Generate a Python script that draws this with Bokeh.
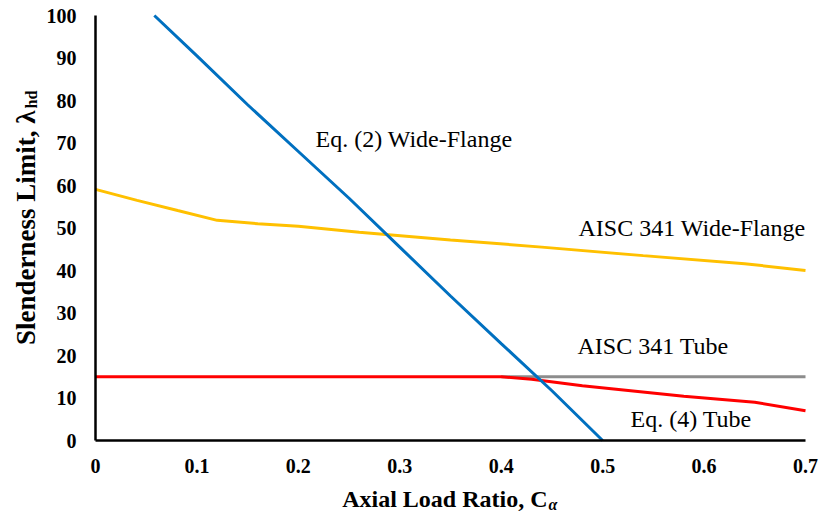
from bokeh.plotting import figure
from bokeh.models import Range1d, FixedTicker, Label
from bokeh.embed import file_html
from bokeh.resources import INLINE
import math

# ---- data ----
eq2_wf_x = [0.058, 0.10, 0.15, 0.20, 0.25, 0.30, 0.35, 0.40, 0.45, 0.50]
eq2_wf_y = [100.0, 90.5, 79.0, 68.0, 57.0, 45.5, 34.0, 22.8, 11.7, 0.0]

aisc_wf_x = [0.0, 0.041, 0.081, 0.12, 0.16, 0.20, 0.26, 0.35, 0.44, 0.54, 0.64, 0.70]
aisc_wf_y = [59.1, 56.5, 54.1, 51.8, 51.0, 50.4, 49.0, 47.2, 45.5, 43.5, 41.6, 40.0]

aisc_tube_x = [0.40, 0.70]
aisc_tube_y = [15.0, 15.0]

eq4_tube_x = [0.0, 0.40, 0.43, 0.48, 0.58, 0.65, 0.70]
eq4_tube_y = [15.0, 15.0, 14.4, 12.9, 10.4, 9.0, 7.0]

x_ticks = [0, 0.1, 0.2, 0.3, 0.4, 0.5, 0.6, 0.7]
x_tick_labels = ["0", "0.1", "0.2", "0.3", "0.4", "0.5", "0.6", "0.7"]
y_ticks = [0, 10, 20, 30, 40, 50, 60, 70, 80, 90, 100]

SERIF = "Liberation Serif"

# canvas geometry: x=0 -> 95px, x=0.7 -> 805px ; y=0 -> 440px, y=100 -> 15px
W, H = 819, 514
L_PX, R_PX, T_PX, B_PX = 95, 805, 15, 440
xs = (R_PX - L_PX) / 0.7
ys = (B_PX - T_PX) / 100.0
x_range = Range1d(-L_PX / xs, 0.7 + (W - R_PX) / xs)
y_range = Range1d(-(H - B_PX) / ys, 100 + T_PX / ys)

def cx(px):  # canvas px -> data x
    return (px - L_PX) / xs

def cy(py):  # canvas px -> data y
    return (B_PX - py) / ys

p = figure(width=W, height=H, output_backend="svg", toolbar_location=None,
           x_range=x_range, y_range=y_range,
           min_border=0, min_border_left=0, min_border_right=0,
           min_border_top=0, min_border_bottom=0)
p.outline_line_color = None
p.background_fill_color = "white"
p.border_fill_color = "white"
p.xgrid.visible = False
p.ygrid.visible = False

for ax in (p.xaxis[0], p.yaxis[0]):
    ax.fixed_location = 0
    ax.axis_line_color = "black"
    ax.axis_line_width = 2.5
    ax.major_tick_line_color = None
    ax.minor_tick_line_color = None
    ax.major_tick_in = 0
    ax.major_tick_out = 0
    ax.major_label_text_font = SERIF
    ax.major_label_text_font_style = "bold"
    ax.major_label_text_font_size = "20px"
    ax.major_label_text_color = "black"

p.xaxis.bounds = (0, 0.7)
p.yaxis.bounds = (0, 100)
p.xaxis.ticker = FixedTicker(ticks=x_ticks)
p.xaxis.major_label_overrides = {t: l for t, l in zip(x_ticks, x_tick_labels)}
p.xaxis.major_label_standoff = 18
p.yaxis.ticker = FixedTicker(ticks=y_ticks)
p.yaxis.major_label_standoff = 19

p.line(aisc_wf_x, aisc_wf_y, line_color="#FFC000", line_width=3)
p.line(aisc_tube_x, aisc_tube_y, line_color="#8C8C8C", line_width=3)
p.line(eq4_tube_x, eq4_tube_y, line_color="#FF0000", line_width=3)
p.line(eq2_wf_x, eq2_wf_y, line_color="#0070C0", line_width=3)

def lab(x, y, text, size="24px", style="normal", align="left", angle=0.0,
        baseline="middle"):
    p.add_layout(Label(x=x, y=y, text=text, text_font=SERIF, text_font_size=size,
                       text_font_style=style, text_align=align, text_baseline=baseline,
                       text_color="black", angle=angle))

# curve annotations
lab(cx(315), cy(138), "Eq. (2) Wide-Flange")
lab(cx(578), cy(227), "AISC 341 Wide-Flange")
lab(cx(577), cy(345), "AISC 341 Tube")
lab(cx(630), cy(418), "Eq. (4) Tube")

# x-axis title with subscript
lab(cx(547), cy(498), "Axial Load Ratio, C", size="24px", style="bold", align="right",
    baseline="alphabetic")
lab(cx(548), cy(504), "\u03b1", size="16px", style="bold italic", align="left",
    baseline="alphabetic")

# y-axis title with subscript (rotated)
lab(cx(25), cy(110), "Slenderness Limit, \u03bb", size="27px", style="bold", align="right",
    angle=math.pi / 2, baseline="alphabetic")
lab(cx(31), cy(108), "hd", size="16px", style="bold", align="left",
    angle=math.pi / 2, baseline="alphabetic")

open("out.html", "w").write(file_html(p, INLINE))
